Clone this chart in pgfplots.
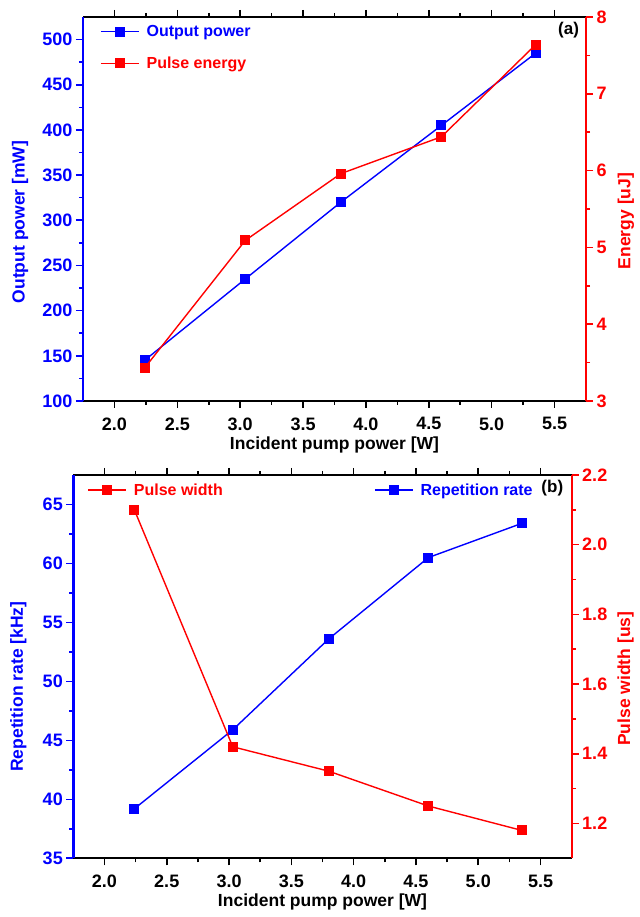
\documentclass[border=0pt]{standalone}
\usepackage{pgfplots}
\pgfplotsset{compat=1.18}
\usepackage{fontspec}
\setmainfont{Liberation Sans}
\definecolor{PBlue}{RGB}{0,0,255}
\definecolor{PRed}{RGB}{255,0,0}

\newcommand{\labfont}{\fontsize{17.5}{20}\selectfont\bfseries}
\pgfplotsset{
  base/.style={
    scale only axis,
    xmin=1.75, xmax=5.75,
    tick align=outside,
    major tick length=7pt,
    minor tick length=4pt,
    every tick/.style={line width=1.6pt},
    axis line style={line width=2.4pt},
    /pgf/number format/assume math mode=true,
    tick label style={font=\fontsize{18}{20}\selectfont\bfseries},
    legend style={draw=none, fill=none, font=\fontsize{16}{18}\selectfont\bfseries,
      row sep=15pt, column sep=5pt, inner sep=0pt},
    legend cell align=left,
    legend image code/.code={
      \draw[mark repeat=2,mark phase=2] plot coordinates {(0pt,0pt)(19pt,0pt)(38pt,0pt)};},
  },
  leftax/.style={base,
    axis y line*=left,
    axis x line*=box,
    xtick={2,2.5,...,5.5},
    minor x tick num=1,
    xtick pos=both,
    xticklabel style={yshift=-6pt,/pgf/number format/.cd,fixed,fixed zerofill,precision=1},
    x axis line style={black},
    y axis line style={PBlue},
    ytick pos=left,
    yticklabel style={text=PBlue},
    every y tick/.style={PBlue, line width=1.6pt},
    xlabel={Incident pump power [W]},
    every axis x label/.style={at={(axis description cs:0.5,0)}, anchor=center,
      yshift=-44pt, font=\labfont},
  },
  rightax/.style={base,
    axis x line=none,
    axis y line*=right,
    y axis line style={PRed},
    yticklabel style={text=PRed},
    every y tick/.style={PRed, line width=1.6pt},
  },
  blueline/.style={PBlue, line width=1.4pt, mark=square*, mark size=4.3pt,
    mark options={solid}},
  redline/.style={PRed, line width=1.4pt, mark=square*, mark size=4.3pt,
    mark options={solid}},
}

\begin{document}
\begin{tikzpicture}[x=1pt,y=1pt]
\useasboundingbox (0,0) rectangle (639,917);

% ---- (a) ----
\begin{axis}[leftax,
  at={(83pt,516pt)}, anchor=south west,
  width=503pt, height=384pt,
  ymin=100, ymax=525,
  ytick={100,150,...,500},
  minor y tick num=1,
  ylabel={Output power [mW]},
  every axis y label/.style={at={(axis description cs:0,0.5)}, xshift=-63pt,
    yshift=-13pt, rotate=90, anchor=center, text=PBlue, font=\labfont},
  legend style={at={(17pt,378pt)}, anchor=north west},
]
  \addplot[blueline] coordinates {
    (2.24,145) (3.04,235) (3.80,320) (4.60,405) (5.35,485)};
  \addlegendentry[text=PBlue]{Output power}
  \addlegendimage{redline}
  \addlegendentry[text=PRed]{Pulse energy}
  \node[font=\fontsize{17}{18}\selectfont\bfseries, anchor=north east]
    at (rel axis cs:0.993,0.995) {(a)};
\end{axis}
\begin{axis}[rightax,
  at={(83pt,516pt)}, anchor=south west,
  width=503pt, height=384pt,
  ymin=3, ymax=8,
  ytick={3,4,...,8},
  minor y tick num=1,
  ylabel={Energy [uJ]},
  every axis y label/.style={at={(axis description cs:1,0.5)}, xshift=40pt,
    yshift=-12pt, rotate=90, anchor=center, text=PRed, font=\labfont},
]
  \addplot[redline] coordinates {
    (2.24,3.43) (3.04,5.09) (3.80,5.96) (4.60,6.44) (5.35,7.64)};
\end{axis}

% ---- (b) ----
\begin{axis}[leftax,
  at={(73.3pt,58.7pt)}, anchor=south west,
  width=498.4pt, height=383.3pt,
  ymin=35, ymax=67.5,
  ytick={35,40,...,65},
  minor y tick num=1,
  ylabel={Repetition rate [kHz]},
  every axis y label/.style={at={(axis description cs:0,0.5)}, xshift=-55pt,
    yshift=-20pt, rotate=90, anchor=center, text=PBlue, font=\labfont},
  legend style={at={(300.7pt,377pt)}, anchor=north west},
]
  \addplot[blueline] coordinates {
    (2.24,39.2) (3.03,45.9) (3.80,53.6) (4.60,60.5) (5.35,63.4)};
  \addlegendentry[text=PBlue]{Repetition rate}
  \node[font=\fontsize{17}{18}\selectfont\bfseries, anchor=north east]
    at (rel axis cs:0.99,0.995) {(b)};
\end{axis}
\begin{axis}[rightax,
  at={(73.3pt,58.7pt)}, anchor=south west,
  width=498.4pt, height=383.3pt,
  ymin=1.1, ymax=2.2,
  ytick={1.2,1.4,...,2.2},
  minor y tick num=1,
  yticklabel style={/pgf/number format/.cd,fixed,fixed zerofill,precision=1},
  ylabel={Pulse width [us]},
  every axis y label/.style={at={(axis description cs:1,0.5)}, xshift=54pt,
    yshift=-12pt, rotate=90, anchor=center, text=PRed, font=\labfont},
  legend style={at={(14pt,377pt)}, anchor=north west},
]
  \addplot[redline] coordinates {
    (2.24,2.10) (3.03,1.42) (3.80,1.35) (4.60,1.25) (5.35,1.18)};
  \addlegendentry[text=PRed]{Pulse width}
\end{axis}
\end{tikzpicture}
\end{document}
